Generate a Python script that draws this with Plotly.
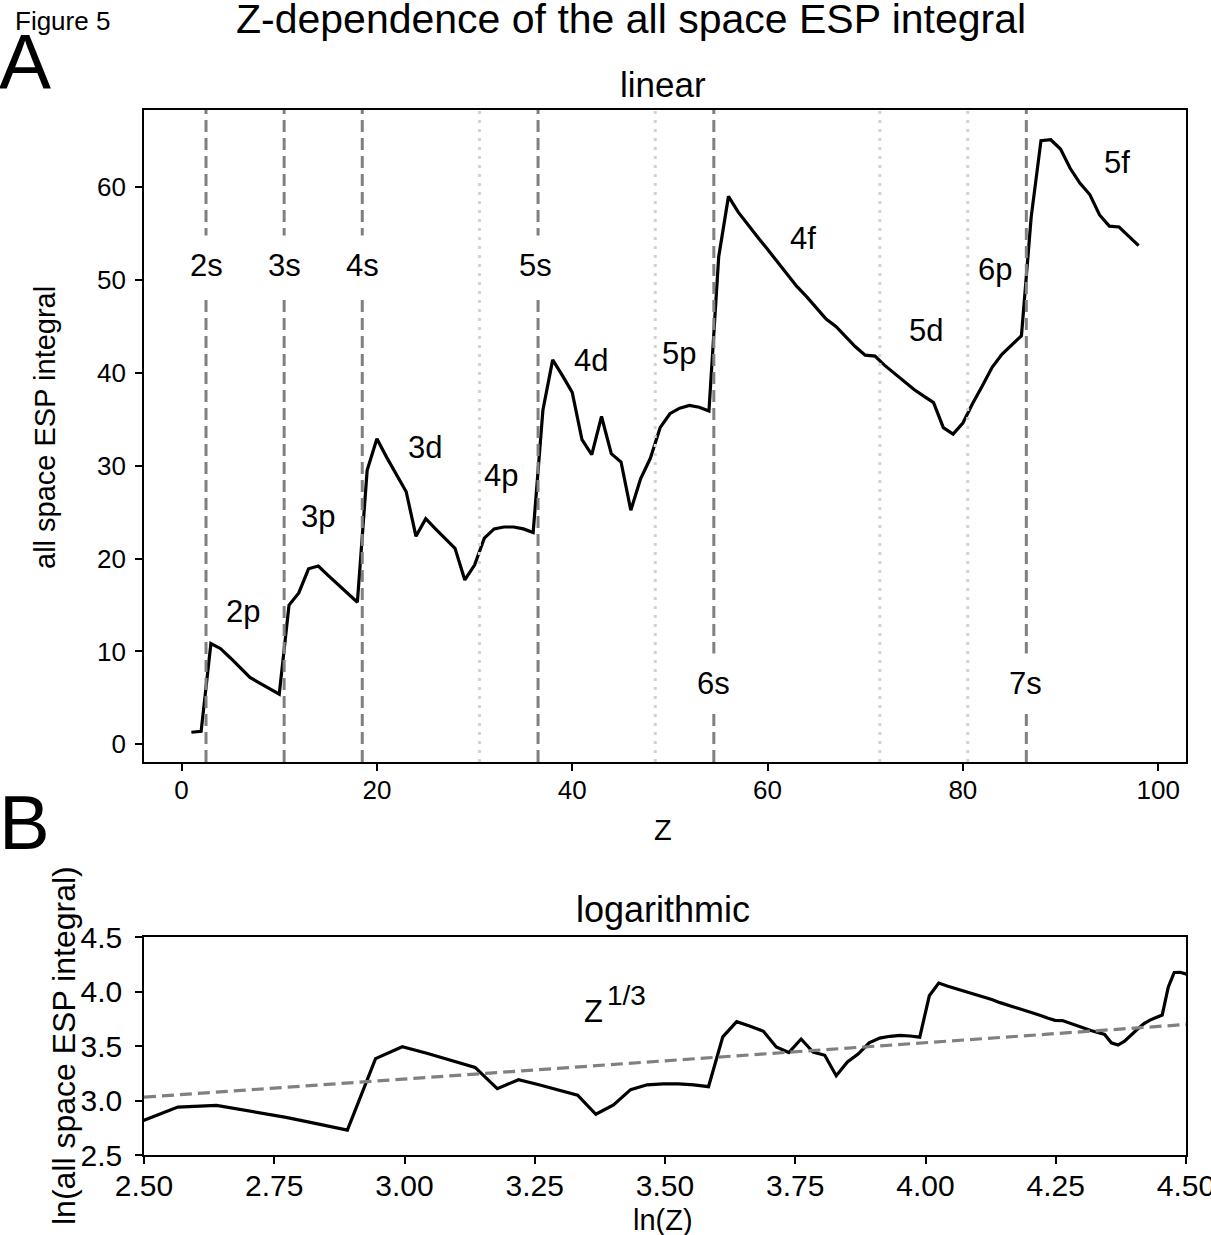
import numpy as np
import plotly.graph_objects as go

# ---------------- data ----------------
Z = list(range(1, 99))
esp_integral = [
    1.3, 1.4, 10.85, 10.3, 9.3, 8.3, 7.2, 6.6, 6.0, 5.4,
    15.0, 16.3, 18.9, 19.2, 18.2, 17.2, 16.2, 15.3, 29.5, 32.9,
    30.9, 29.0, 27.2, 22.4, 24.3, 23.2, 22.1, 21.1, 17.7, 19.3,
    22.2, 23.2, 23.4, 23.4, 23.2, 22.8, 36.0, 41.4, 39.7, 37.9,
    32.8, 31.2, 35.3, 31.3, 30.4, 25.2, 28.6, 30.8, 34.1, 35.6,
    36.2, 36.5, 36.3, 35.9, 52.5, 59.0, 57.3, 55.9, 54.6, 53.3,
    52.0, 50.7, 49.3, 48.2, 47.0, 45.8, 45.0, 43.9, 42.8, 41.9,
    41.8, 40.8, 39.9, 39.0, 38.2, 37.5, 36.8, 34.1, 33.4, 34.6,
    36.7, 38.6, 40.6, 42.0, 43.0, 44.0, 56.8, 65.0, 65.1, 64.1,
    62.0, 60.4, 59.2, 57.0, 55.8, 55.7, 54.7, 53.7,
]

# shell boundaries (vertical lines)
s_shell_lines = [2.5, 10.5, 18.5, 36.5, 54.5, 86.5]
other_shell_lines = [30.5, 48.5, 71.5, 80.5]

# shell labels: (text, Z position, value position)
s_labels = ["2s", "3s", "4s", "5s", "6s", "7s"]
s_label_z = [2.5, 10.5, 18.5, 36.2, 54.5, 86.4]
s_label_v = [51.6, 51.6, 51.6, 51.6, 6.6, 6.6]
orb_labels = ["2p", "3p", "3d", "4p", "4d", "5p", "4f", "5d", "6p", "5f"]
orb_label_z = [6.3, 14.0, 24.9, 32.7, 41.9, 50.9, 63.6, 76.2, 83.3, 95.8]
orb_label_v = [14.3, 24.5, 32.0, 29.0, 41.3, 42.1, 54.5, 44.6, 51.1, 62.7]

# reference power law  c * Z^(1/3)
ref_coef = 9.0
ref_exp = 1.0 / 3.0
ref_lnz = [2.5, 4.5]

# x / y tick values
a_xticks = [0, 20, 40, 60, 80, 100]
a_yticks = [0, 10, 20, 30, 40, 50, 60]
b_xticks = [2.5, 2.75, 3.0, 3.25, 3.5, 3.75, 4.0, 4.25, 4.5]
b_yticks = [2.5, 3.0, 3.5, 4.0, 4.5]

# ---------------- figure ----------------
W, H = 1211, 1235
FONT = "Liberation Sans"


def px(x):
    return x / W


def py(y):
    return 1 - y / H


lnZ = np.log(np.array(Z, dtype=float))
lnE = np.log(np.array(esp_integral))

fig = go.Figure()
fig.add_trace(go.Scatter(x=Z, y=esp_integral, mode="lines",
                         line=dict(color="black", width=3.2),
                         xaxis="x", yaxis="y", showlegend=False))
fig.add_trace(go.Scatter(x=lnZ, y=lnE, mode="lines",
                         line=dict(color="black", width=3.2),
                         xaxis="x2", yaxis="y2", showlegend=False))
ref_y = [np.log(ref_coef) + ref_exp * v for v in ref_lnz]
fig.add_trace(go.Scatter(x=ref_lnz, y=ref_y, mode="lines",
                         line=dict(color="#808080", width=3.2, dash="12px,6px"),
                         xaxis="x2", yaxis="y2", showlegend=False))

shapes = []
for xv in other_shell_lines:
    shapes.append(dict(type="line", xref="x", yref="y domain", x0=xv, x1=xv, y0=0, y1=1,
                       line=dict(color="#d3d3d3", width=3, dash="3px,6px"), layer="above"))
for xv in s_shell_lines:
    shapes.append(dict(type="line", xref="x", yref="y domain", x0=xv, x1=xv, y0=0, y1=1,
                       line=dict(color="#808080", width=3, dash="12px,6px"), layer="above"))

annotations = []
for t, zx, v in zip(s_labels, s_label_z, s_label_v):
    annotations.append(dict(x=zx, y=v, xref="x", yref="y", text=t, showarrow=False,
                            font=dict(family=FONT, size=31, color="black"),
                            bgcolor="white", borderpad=12))
for t, zx, v in zip(orb_labels, orb_label_z, orb_label_v):
    annotations.append(dict(x=zx, y=v, xref="x", yref="y", text=t, showarrow=False,
                            font=dict(family=FONT, size=31, color="black")))


def txt(x, y, s, size, **kw):
    d = dict(x=px(x), y=py(y), xref="paper", yref="paper", text=s, showarrow=False,
             font=dict(family=FONT, size=size, color="black"), xanchor="center", yanchor="middle")
    d.update(kw)
    annotations.append(d)


txt(62, 21, "Figure 5", 26)
txt(631, 19, "Z-dependence of the all space ESP integral", 41)
txt(25, 62, "A", 78)
txt(24, 822, "B", 76)
txt(663, 84, "linear", 35)
txt(663, 909, "logarithmic", 36)
txt(663, 830, "Z", 29)
txt(663, 1220, "ln(Z)", 29)
txt(45, 428, "all space ESP integral", 29, textangle=-90)
txt(64, 1046, "ln(all space ESP integral)", 32, textangle=-90)
# Z^(1/3) label of the reference line
txt(593, 1011, "Z", 31)
txt(626, 995, "1/3", 28)

axis_common = dict(showline=True, linecolor="black", linewidth=1.6, mirror=True,
                   ticks="outside", ticklen=7, tickwidth=1.6, tickcolor="black",
                   showgrid=False, zeroline=False, automargin=False,
                   ticklabeloverflow="allow")
fa = dict(family=FONT, size=26, color="black")
fb = dict(family=FONT, size=30, color="black")

fig.update_layout(
    template="none",
    width=W, height=H,
    margin=dict(l=0, r=0, t=0, b=0, pad=0, autoexpand=False),
    paper_bgcolor="white", plot_bgcolor="white",
    xaxis=dict(domain=[px(144), px(1186)], range=[-3.85, 102.85], anchor="y",
               tickvals=a_xticks, tickfont=fa, ticklabelstandoff=-3, **axis_common),
    yaxis=dict(domain=[py(762), py(110)], range=[-1.9, 68.3], anchor="x",
               tickvals=a_yticks, tickfont=fa, ticklabelstandoff=4, **axis_common),
    xaxis2=dict(domain=[px(144), px(1186)], range=[2.5, 4.5], anchor="y2",
                tickvals=b_xticks, tickformat=".2f", tickfont=fb, ticklabelstandoff=-4,
                **axis_common),
    yaxis2=dict(domain=[py(1155), py(937)], range=[2.5, 4.5], anchor="x2",
                tickvals=b_yticks, tickformat=".1f", tickfont=fb, ticklabelstandoff=7,
                **axis_common),
    shapes=shapes,
    annotations=annotations,
    font=dict(family=FONT),
    showlegend=False,
)

fig.write_html("out.html", config={"displayModeBar": False},
               post_script="document.body.style.margin='0';document.body.style.overflow='hidden';")
